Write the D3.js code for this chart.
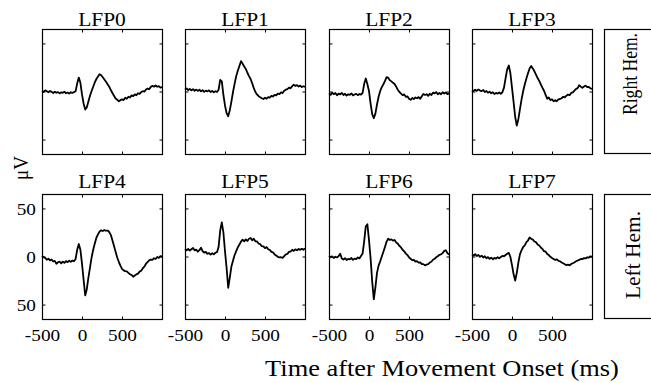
<!DOCTYPE html>
<html>
<head>
<meta charset="utf-8">
<script src="https://cdn.jsdelivr.net/npm/d3@7"></script>
<style>
  html, body { margin: 0; padding: 0; background: #fff; }
  svg { display: block; }
</style>
</head>
<body>
<svg id="chart" width="651" height="383"></svg>
<script>
// Sample times of the averaged traces (ms relative to movement onset)
const sampleTimesMs = [
  -500,-480,-460,-440,-420,-400,-380,-360,-340,-320,
  -300,-280,-260,-240,-220,-200,-180,-160,-140,-120,
  -100,-80,-60,-40,-20,0,20,40,60,80,
  100,120,140,160,180,200,220,240,260,280,
  300,320,340,360,380,400,420,440,460,480,
  500,520,540,560,580,600,620,640,660,680,
  700,720,740,760,780,800,820,840,860,880,
  900,920,940,960,980,1000
];

// Movement-related LFP averages (µV), right hemisphere
const lfp0 = [
  0.5,-0.5,1.2,0.2,-0.8,0.6,-0.4,-1.6,-0.2,-1.3,
  -0.6,-2.0,-0.9,-1.4,-0.3,-1.8,-1.0,-2.2,-0.8,-1.5,
  -0.6,0.2,8.5,14.5,9.0,-3.0,-12.5,-18.8,-16.5,-10.5,
  -4.5,0.5,5.0,9.5,13.0,15.5,18.0,16.8,14.8,12.5,
  10.2,7.5,5.0,1.5,-1.5,-4.5,-7.2,-8.5,-10.2,-9.0,
  -8.2,-8.9,-6.5,-7.6,-5.4,-6.3,-4.0,-4.8,-3.0,-3.9,
  -1.8,-2.4,-0.6,0.3,-0.2,2.1,3.0,2.4,4.8,5.9,
  5.0,6.2,4.9,5.6,4.1,4.6
];
const lfp1 = [
  2.0,3.2,1.5,2.6,1.2,2.4,0.8,2.0,0.6,1.8,
  0.2,1.3,-0.4,0.9,0.1,1.2,-0.5,0.6,-0.8,0.3,
  -0.6,1.8,12.0,10.5,-3.5,-14.5,-22.5,-25.8,-19.5,-10.5,
  -0.5,8.0,15.8,21.5,26.5,31.5,29.0,26.0,23.5,19.5,
  16.0,13.0,8.5,3.5,-0.5,-3.0,-4.8,-6.0,-7.0,-7.8,
  -6.5,-7.5,-5.8,-6.4,-4.5,-5.2,-3.6,-4.1,-2.2,-2.8,
  -1.0,-1.6,0.8,1.9,2.5,4.0,3.3,5.6,7.0,5.8,
  6.6,5.2,6.1,4.6,5.5,4.8
];
const lfp2 = [
  -2.0,-3.5,-1.2,-2.8,-1.6,-3.9,-2.2,-3.0,-1.5,-3.6,
  -2.4,-4.2,-2.9,-3.4,-2.0,-4.0,-3.1,-2.5,-3.8,-2.6,
  -3.3,-1.5,8.0,13.5,7.5,0.5,-12.5,-23.5,-27.8,-23.0,
  -13.5,-5.5,0.5,4.5,7.5,11.0,15.0,14.2,11.8,10.5,
  9.0,7.8,5.0,1.8,-0.5,-2.2,-3.8,-3.0,-5.6,-5.0,
  -7.5,-8.6,-6.8,-7.9,-6.2,-7.0,-5.8,-7.6,-5.0,-2.5,
  -3.6,-2.8,-4.5,-2.4,-3.6,-1.2,-2.0,-0.6,-2.8,-1.5,
  -2.9,-0.8,-2.1,-1.0,-2.6,-2.2
];
const lfp3 = [
  -0.5,0.8,1.9,0.6,2.2,1.0,0.4,1.6,-0.6,0.5,
  -1.2,-0.2,-1.8,-0.8,-2.6,-1.5,-2.2,-1.0,-2.4,-0.8,
  4.0,14.0,23.0,27.0,19.0,4.0,-11.0,-26.5,-35.5,-28.5,
  -18.0,-8.0,0.5,7.5,13.5,19.0,24.0,26.5,24.0,21.0,
  17.5,14.0,11.0,7.5,4.0,0.8,-3.5,-7.5,-6.2,-9.0,
  -8.0,-10.2,-9.0,-10.0,-8.2,-7.8,-7.0,-5.5,-6.0,-4.3,
  -3.2,-3.9,-1.5,-0.9,1.0,2.6,3.5,6.5,5.0,3.8,
  5.2,6.1,4.5,4.9,3.2,2.8
];
// Left hemisphere
const lfp4 = [
  1.0,-0.8,-1.5,-3.4,-2.2,-4.0,-3.1,-5.2,-4.6,-7.5,
  -6.0,-5.4,-7.0,-5.5,-6.6,-4.8,-5.9,-4.4,-5.6,-4.2,
  -5.0,-2.5,7.0,13.0,7.0,-7.5,-24.0,-40.5,-34.0,-22.0,
  -11.5,-1.0,7.0,13.5,19.5,23.0,26.0,27.2,26.5,27.5,
  26.8,27.0,25.5,22.5,17.0,11.0,5.0,-1.0,-5.5,-9.5,
  -12.8,-14.4,-15.2,-15.4,-17.0,-18.4,-19.2,-21.0,-19.8,-18.6,
  -17.8,-15.7,-14.8,-12.2,-10.6,-7.5,-5.9,-3.9,-3.2,-3.5,
  -1.8,-2.6,-0.5,-1.4,0.4,0.0
];
const lfp5 = [
  8.0,6.5,7.8,6.2,7.5,8.8,6.4,7.2,5.0,6.6,
  9.2,5.6,4.0,4.8,2.8,3.6,2.0,3.4,2.2,3.9,
  4.5,10.0,27.0,35.5,25.0,5.5,-12.0,-32.5,-22.0,-10.5,
  -4.5,1.5,5.5,9.5,12.5,15.5,17.5,15.8,17.8,16.2,
  18.5,19.3,16.8,18.5,15.7,15.6,13.5,12.8,10.7,10.5,
  8.7,9.8,7.5,6.8,4.9,4.3,2.2,1.1,-0.3,-0.9,
  -0.8,-1.5,0.3,2.1,2.7,4.9,5.2,7.0,5.8,7.4,
  6.5,7.8,6.9,8.0,7.0,8.4
];
const lfp6 = [
  0.5,-0.8,0.2,-1.5,-0.2,-1.0,0.4,2.8,-2.0,-3.2,
  -1.8,-3.6,-2.5,-3.0,-1.6,-3.4,-2.2,-2.8,-1.0,-2.0,
  0.5,3.0,16.0,31.5,33.5,17.0,-2.0,-26.0,-44.5,-32.0,
  -17.0,-9.5,-5.0,0.0,5.0,10.0,15.5,18.5,17.2,17.8,
  16.5,17.2,14.6,13.4,11.0,9.4,7.0,5.4,3.0,1.6,
  -0.8,-2.4,-3.8,-3.6,-5.2,-4.9,-6.4,-6.2,-7.8,-7.9,
  -9.2,-8.4,-7.9,-6.3,-5.5,-3.3,-2.4,-0.8,0.2,1.8,
  2.2,3.5,5.8,6.5,3.5,2.0
];
const lfp7 = [
  2.0,1.0,2.4,0.5,1.6,-0.4,0.8,-1.0,0.2,-1.8,
  -0.6,-2.4,-1.2,-2.8,-1.5,-2.2,-0.8,-1.9,-0.5,0.6,
  0.2,1.5,2.8,3.8,-0.5,-9.0,-18.5,-25.0,-17.0,-6.0,
  2.5,6.6,9.9,11.6,14.9,16.6,19.8,18.4,17.6,15.6,
  14.9,12.4,11.4,9.4,7.9,5.6,5.1,2.7,1.5,-0.3,
  -1.5,-2.6,-3.5,-3.0,-4.4,-5.0,-6.2,-7.0,-8.0,-9.0,
  -8.4,-9.2,-7.8,-7.0,-6.2,-5.0,-4.2,-3.6,-2.5,-2.8,
  -1.6,-2.0,-0.8,-1.2,0.2,-0.4
];

const channelNames = ["LFP0", "LFP1", "LFP2", "LFP3", "LFP4", "LFP5", "LFP6", "LFP7"];
const channelTraces = [lfp0, lfp1, lfp2, lfp3, lfp4, lfp5, lfp6, lfp7];
const hemisphereLabels = ["Right Hem.", "Left Hem."];
const timeTicks = [-500, 0, 500];
const voltTicks = [-50, 0, 50];
const timeDomain = [-500, 1000];
const voltDomain = [-65, 65];
const yAxisTitle = "\u03bcV";
const xAxisTitle = "Time after Movement Onset (ms)";

// ---- layout ----
const svg = d3.select("#chart");
const FONT = '"Liberation Serif", "Times New Roman", Times, serif';
const STRETCH = 1.1;           // glyphs are set slightly wide
const panelW = 120, panelH = 125;
const colLeft = d3.scaleLinear().domain([0, 3]).range([42, 472]);
const rowTop = [29, 194];
const titleBaseline = [26, 188];

function stretchedText(x, y, txt, size, anchor, rotate) {
  const g = svg.append("g")
    .attr("transform", `translate(${x},${y}) scale(${STRETCH},1)` + (rotate ? ` rotate(${rotate})` : ""));
  return g.append("text")
    .attr("text-anchor", anchor)
    .attr("font-family", FONT)
    .attr("font-size", size)
    .attr("fill", "#000")
    .text(txt);
}

function styleAxis(g) {
  g.select(".domain").remove();
  g.selectAll(".tick line").attr("stroke", "#000").attr("stroke-width", 1);
  g.selectAll(".tick text")
    .attr("font-family", FONT)
    .attr("font-size", 17.5)
    .attr("fill", "#000")
    .attr("transform", `scale(${STRETCH},1)`);
}

channelNames.forEach((name, k) => {
  const row = k < 4 ? 0 : 1;
  const col = k % 4;
  const left = Math.round(colLeft(col));
  const top = rowTop[row];

  const x = d3.scaleLinear().domain(timeDomain).range([left, left + panelW]);
  const y = d3.scaleLinear().domain(voltDomain).range([top + panelH, top]);

  // inward ticks on all four sides
  const tickLen = -3;
  const bottom = svg.append("g").attr("transform", `translate(0,${top + panelH + 0.5})`)
    .call(d3.axisBottom(x).tickValues(timeTicks).tickSizeInner(tickLen).tickSizeOuter(0)
      .tickPadding(9).tickFormat(row === 1 ? d3.format("d") : () => ""));
  styleAxis(bottom);
  bottom.selectAll(".tick text").text(d => row === 1 ? String(d) : "");

  styleAxis(svg.append("g").attr("transform", `translate(0,${top + 0.5})`)
    .call(d3.axisTop(x).tickValues(timeTicks).tickSizeInner(tickLen).tickSizeOuter(0).tickFormat(() => "")));

  const leftAxis = svg.append("g").attr("transform", `translate(${left + 0.5},0)`)
    .call(d3.axisLeft(y).tickValues(voltTicks).tickSizeInner(tickLen).tickSizeOuter(0)
      .tickPadding(6).tickFormat(d => (k === 4 ? String(Math.abs(d)) : "")));
  styleAxis(leftAxis);

  styleAxis(svg.append("g").attr("transform", `translate(${left + panelW + 0.5},0)`)
    .call(d3.axisRight(y).tickValues(voltTicks).tickSizeInner(tickLen).tickSizeOuter(0).tickFormat(() => "")));

  // frame
  svg.append("rect")
    .attr("x", left + 0.5).attr("y", top + 0.5)
    .attr("width", panelW).attr("height", panelH)
    .attr("fill", "none").attr("stroke", "#000").attr("stroke-width", 1.2);

  // trace
  const line = d3.line()
    .x((d, i) => x(sampleTimesMs[i]))
    .y(d => y(d));
  svg.append("path")
    .datum(channelTraces[k])
    .attr("d", line)
    .attr("fill", "none")
    .attr("stroke", "#000")
    .attr("stroke-width", 1.8)
    .attr("stroke-linejoin", "round");

  // channel title
  stretchedText(left + panelW / 2, titleBaseline[row], name, 19.5, "middle");
});

// hemisphere label boxes
hemisphereLabels.forEach((lab, r) => {
  svg.append("rect")
    .attr("x", 604.5).attr("y", rowTop[r] + 0.5)
    .attr("width", 80).attr("height", panelH - 1)
    .attr("fill", "none").attr("stroke", "#000").attr("stroke-width", 1.2);
});
stretchedText(637, 74, hemisphereLabels[0], 18.5, "middle", -90).attr("textLength", 82).attr("lengthAdjust", "spacingAndGlyphs");
stretchedText(640, 255, hemisphereLabels[1], 18.5, "middle", -90).attr("textLength", 88).attr("lengthAdjust", "spacingAndGlyphs");

// axis titles
stretchedText(28, 168, yAxisTitle, 19, "middle", -90);
stretchedText(442, 376, xAxisTitle, 24, "middle");
</script>
</body>
</html>
